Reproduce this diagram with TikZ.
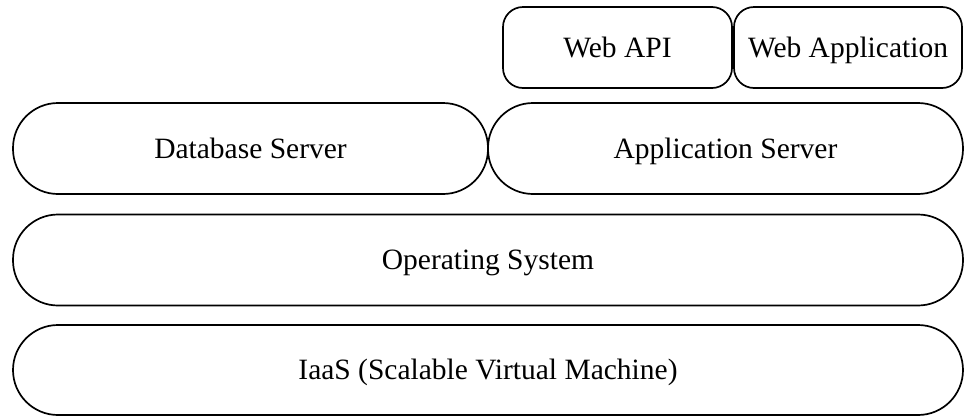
\documentclass[tikz,border=0pt]{standalone}
\usepackage{fontspec}
\setmainfont{Liberation Serif}
\usetikzlibrary{positioning}

\begin{document}
\begin{tikzpicture}[x=1pt, y=-1pt]
        % Definitions
        \def\layerH{91}
        \def\fullW{950}
        \def\halfW{475}

        % Styles
        \tikzstyle{layer} = [draw=black, line width=1.7pt, rounded corners=45pt, minimum height=\layerH pt, inner sep=0pt, text height=19.5pt, text depth=0pt, font=\fontsize{29.5}{34}\selectfont]
        \tikzstyle{service} = [draw=black, line width=1.7pt, rounded corners=20pt, minimum height=81pt, inner sep=0pt, text height=19.5pt, text depth=0pt, font=\fontsize{29.5}{34}\selectfont]

        \useasboundingbox (0,0) rectangle (964,416);

        % Services
        \node[service, minimum width=229pt] (webapi) at (617.5, 47.5) {Web API};
        \node[service, minimum width=228pt] (webapp) at (848, 47.5) {Web Application};

        % Servers
        \node[layer, minimum width=\halfW pt] (dbserver) at (250.5, 148.5) {Database Server};
        \node[layer, minimum width=\halfW pt] (appserver) at (725.5, 148.5) {Application Server};

        % OS and IaaS
        \node[layer, minimum width=\fullW pt] (os) at (488, 260) {Operating System};
        \node[layer, minimum width=\fullW pt, minimum height=90pt] (iaas) at (488, 370) {IaaS (Scalable Virtual Machine)};

    \end{tikzpicture}
\end{document}
